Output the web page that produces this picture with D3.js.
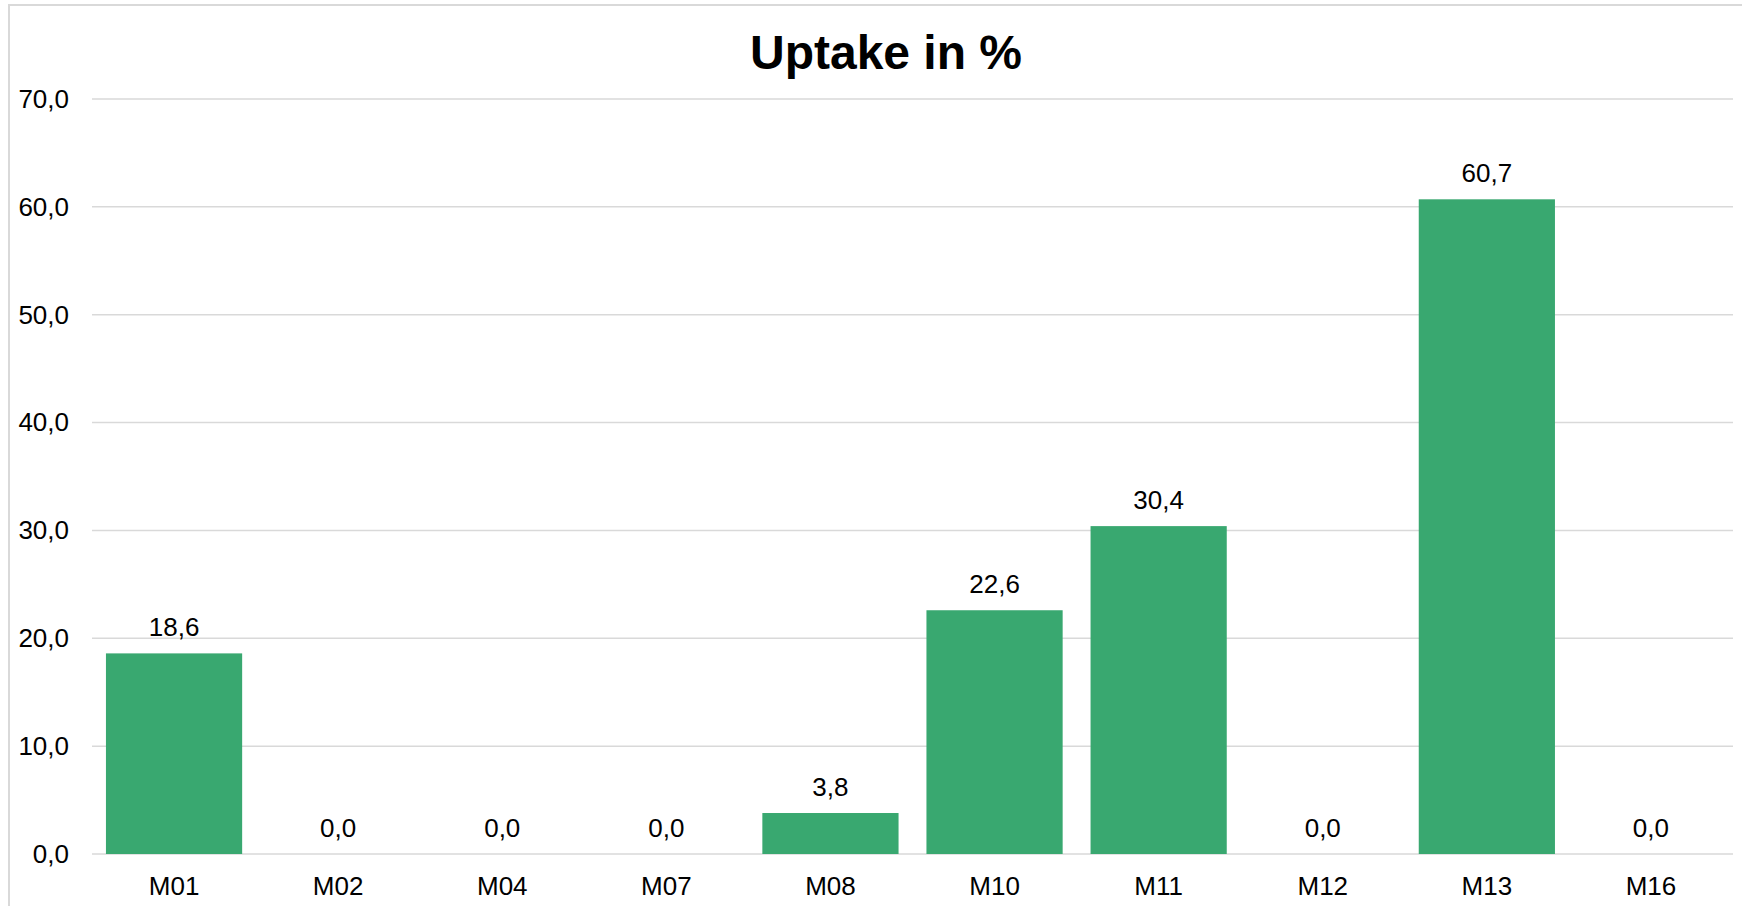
<!DOCTYPE html>
<html>
<head>
<meta charset="utf-8">
<script src="https://cdn.jsdelivr.net/npm/d3@7"></script>
<style>
  html, body { margin: 0; padding: 0; background: #fff; }
  svg { display: block; font-family: "Liberation Sans", Arial, sans-serif; }
</style>
</head>
<body>
<svg id="chart" width="1742" height="906"></svg>
<script>
// Uptake per module, in percent
const categories = ["M01", "M02", "M04", "M07", "M08", "M10", "M11", "M12", "M13", "M16"];
const uptake = [18.6, 0.0, 0.0, 0.0, 3.8, 22.6, 30.4, 0.0, 60.7, 0.0];
const yTicks = [0, 10, 20, 30, 40, 50, 60, 70];
const title = "Uptake in %";

const data = categories.map((c, i) => ({ cat: c, value: uptake[i] }));
const fmt = v => d3.format(".1f")(v).replace(".", ",");

const svg = d3.select("#chart");

// outer chart frame (extends past the right and bottom of the view)
svg.append("rect")
  .attr("x", 9).attr("y", 5)
  .attr("width", 1780).attr("height", 940)
  .attr("fill", "#fff")
  .attr("stroke", "#d9d9d9")
  .attr("stroke-width", 2);

const plot = { left: 92, right: 1733, top: 99, bottom: 854 };

const x = d3.scaleBand()
  .domain(categories)
  .range([plot.left, plot.right])
  .paddingInner(0.17)
  .paddingOuter(0.085);

const y = d3.scaleLinear()
  .domain([0, 70])
  .range([plot.bottom, plot.top]);

// horizontal gridlines
svg.append("g")
  .selectAll("line")
  .data(yTicks)
  .join("line")
  .attr("x1", plot.left).attr("x2", plot.right)
  .attr("y1", d => y(d)).attr("y2", d => y(d))
  .attr("stroke", "#d9d9d9")
  .attr("stroke-width", 1.5);

// y axis labels
const yAxis = svg.append("g")
  .attr("transform", `translate(${plot.left - 23},0)`)
  .call(d3.axisLeft(y).tickValues(yTicks).tickFormat(fmt).tickSize(0).tickPadding(0));
yAxis.select(".domain").remove();
yAxis.selectAll("text")
  .attr("font-size", 26)
  .attr("fill", "#000")
  .attr("font-family", "Liberation Sans, Arial, sans-serif");

// bars
svg.append("g")
  .selectAll("rect")
  .data(data)
  .join("rect")
  .attr("x", d => x(d.cat))
  .attr("width", x.bandwidth())
  .attr("y", d => y(d.value))
  .attr("height", d => y(0) - y(d.value))
  .attr("fill", "#39a870");

// value labels
svg.append("g")
  .selectAll("text")
  .data(data)
  .join("text")
  .attr("x", d => x(d.cat) + x.bandwidth() / 2)
  .attr("y", d => y(d.value) - 17)
  .attr("text-anchor", "middle")
  .attr("font-size", 26)
  .attr("fill", "#000")
  .text(d => fmt(d.value));

// category axis labels
const xAxis = svg.append("g")
  .attr("transform", `translate(0,${plot.bottom})`)
  .call(d3.axisBottom(x).tickSize(0).tickPadding(0));
xAxis.select(".domain").remove();
xAxis.selectAll("text")
  .attr("dy", null)
  .attr("y", 41)
  .attr("font-size", 26)
  .attr("fill", "#000")
  .attr("font-family", "Liberation Sans, Arial, sans-serif");

// title
svg.append("text")
  .attr("x", 886)
  .attr("y", 69)
  .attr("text-anchor", "middle")
  .attr("font-size", 48)
  .attr("font-weight", "bold")
  .attr("fill", "#000")
  .text(title);
</script>
</body>
</html>
